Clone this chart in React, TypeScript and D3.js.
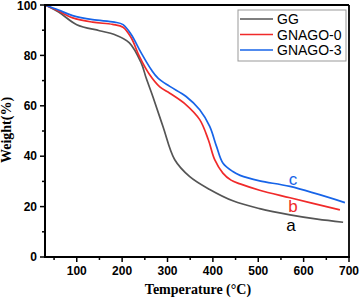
import { useEffect, useRef } from 'react';
import * as d3 from 'd3';

// temperature (°C), weight (%)
const ggTemp = [30, 60, 100, 150, 183, 216, 242, 253, 268, 290, 316, 349, 393, 444, 503, 570, 630, 687];
const ggWeight = [100, 97.2, 92.2, 89.8, 88.3, 85, 77, 71, 63.5, 51.8, 38.6, 31.9, 26.8, 22.3, 19.2, 16.7, 15, 13.8];

const g0Temp = [30, 60, 91, 135, 179, 202, 220, 238, 260, 283, 305, 341, 371, 390, 404, 422, 440, 460, 503, 570, 680];
const g0Weight = [100, 97.6, 94.9, 93.2, 92.3, 91.2, 87, 79.6, 72.5, 67.5, 65, 60.4, 54.5, 46.5, 38.6, 33.3, 30.5, 29, 26.5, 23.5, 18.7];

const g3Temp = [30, 60, 91, 135, 183, 202, 220, 242, 264, 279, 305, 341, 371, 393, 408, 422, 444, 460, 503, 570, 691];
const g3Weight = [100, 98, 95.8, 94.2, 93.2, 92.2, 88.3, 81, 74.4, 71, 67.7, 63.7, 58.4, 51.8, 43.9, 37.3, 33.9, 32.4, 30.2, 28, 21.6];

const seriesNames = ['GG', 'GNAGO-0', 'GNAGO-3'];
const seriesColors = ['#555555', '#f02a2a', '#1764e8'];
const curveTags = ['a', 'b', 'c'];

const xTicks = [100, 200, 300, 400, 500, 600, 700];
const xMinor = [50, 150, 250, 350, 450, 550, 650];
const yTicks = [0, 20, 40, 60, 80, 100];
const yMinor = [10, 30, 50, 70, 90];

export default function App() {
    const svgRef = useRef<SVGSVGElement>(null);

    useEffect(() => {
        const width = 360;
        const height = 299;
        const left = 45, right = 349, top = 5, bottom = 257;

        const svg = d3.select(svgRef.current);
        svg.selectAll('*').remove();
        svg.attr('width', width).attr('height', height);

        const x = d3.scaleLinear().domain([30, 700]).range([left, right]);
        const y = d3.scaleLinear().domain([0, 100]).range([bottom, top]);

        const series = [
            ggTemp.map((t, i) => [t, ggWeight[i]]),
            g0Temp.map((t, i) => [t, g0Weight[i]]),
            g3Temp.map((t, i) => [t, g3Weight[i]]),
        ];

        const line = d3.line<number[]>()
            .x((d) => x(d[0]))
            .y((d) => y(d[1]))
            .curve(d3.curveCatmullRom.alpha(0.5));

        series.forEach((s, i) => {
            svg.append('path')
                .attr('d', line(s))
                .attr('fill', 'none')
                .attr('stroke', seriesColors[i])
                .attr('stroke-width', 1.7);
        });

        // frame
        svg.append('line').attr('x1', left).attr('x2', right).attr('y1', top).attr('y2', top)
            .attr('stroke', '#000').attr('stroke-width', 1.8);
        svg.append('line').attr('x1', right).attr('x2', right).attr('y1', top).attr('y2', bottom)
            .attr('stroke', '#000').attr('stroke-width', 1.8);

        const tickFont = 'Arial, "Liberation Sans", sans-serif';

        // bottom axis
        const xAxis = svg.append('g').attr('transform', `translate(0,${bottom})`);
        xAxis.append('line').attr('x1', left - 1).attr('x2', right + 1)
            .attr('stroke', '#000').attr('stroke-width', 2);
        xTicks.forEach((t) => {
            xAxis.append('line').attr('x1', x(t)).attr('x2', x(t)).attr('y1', 0).attr('y2', 5)
                .attr('stroke', '#000').attr('stroke-width', 1.5);
            xAxis.append('text').attr('x', x(t)).attr('y', 18)
                .attr('text-anchor', 'middle')
                .style('font-family', tickFont)
                .style('font-weight', 'bold').style('font-size', '12px')
                .text(t);
        });
        xMinor.forEach((t) => {
            xAxis.append('line').attr('x1', x(t)).attr('x2', x(t)).attr('y1', 0).attr('y2', 3)
                .attr('stroke', '#000').attr('stroke-width', 1.5);
        });

        // left axis
        const yAxis = svg.append('g').attr('transform', `translate(${left},0)`);
        yAxis.append('line').attr('y1', top - 1).attr('y2', bottom + 1)
            .attr('stroke', '#000').attr('stroke-width', 2);
        yTicks.forEach((t) => {
            yAxis.append('line').attr('x1', 0).attr('x2', -5).attr('y1', y(t)).attr('y2', y(t))
                .attr('stroke', '#000').attr('stroke-width', 1.5);
            yAxis.append('text').attr('x', -8).attr('y', Math.max(y(t), 6)).attr('dy', '0.35em')
                .attr('text-anchor', 'end')
                .style('font-family', tickFont)
                .style('font-weight', 'bold').style('font-size', '12px')
                .text(t);
        });
        yMinor.forEach((t) => {
            yAxis.append('line').attr('x1', 0).attr('x2', -3).attr('y1', y(t)).attr('y2', y(t))
                .attr('stroke', '#000').attr('stroke-width', 1.5);
        });

        // axis titles
        svg.append('text')
            .attr('x', 198).attr('y', 294)
            .attr('text-anchor', 'middle')
            .style('font-family', '"Times New Roman", "Liberation Serif", serif')
            .style('font-weight', 'bold').style('font-size', '14px')
            .text('Temperature (°C)');
        svg.append('text')
            .attr('transform', 'translate(11,130) rotate(-90)')
            .attr('text-anchor', 'middle')
            .style('font-family', '"Times New Roman", "Liberation Serif", serif')
            .style('font-weight', 'bold').style('font-size', '14px')
            .text('Weight(%)');

        // legend
        const legend = svg.append('g');
        legend.append('rect').attr('x', 238).attr('y', 10).attr('width', 108).attr('height', 51)
            .attr('fill', '#fff').attr('stroke', '#999').attr('stroke-width', 1);
        seriesNames.forEach((name, i) => {
            const ly = 19 + i * 15.5;
            legend.append('line').attr('x1', 240).attr('x2', 273).attr('y1', ly).attr('y2', ly)
                .attr('stroke', seriesColors[i]).attr('stroke-width', 1.7);
            legend.append('text').attr('x', 277).attr('y', ly).attr('dy', '0.36em')
                .style('font-family', tickFont)
                .style('font-size', '14px')
                .text(name);
        });

        // curve tags
        const tagPos = [[291, 226], [293, 207], [293, 180]];
        curveTags.forEach((tag, i) => {
            svg.append('text').attr('x', tagPos[i][0]).attr('y', tagPos[i][1]).attr('dy', '0.3em')
                .attr('text-anchor', 'middle')
                .style('font-family', tickFont)
                .style('font-size', '17px')
                .attr('fill', i === 0 ? '#000' : seriesColors[i])
                .text(tag);
        });
    }, []);

    return (
        <svg ref={svgRef} style={{ position: 'absolute', left: 0, top: 0, background: '#fff' }}></svg>
    );
}
